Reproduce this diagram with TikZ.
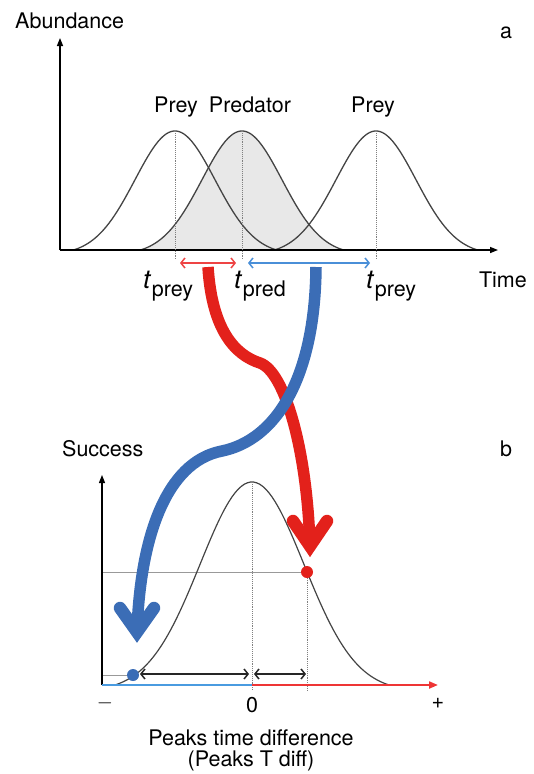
\documentclass[tikz,border=0pt]{standalone}
\usepackage{fontspec}
\setmainfont{TeX Gyre Heros}
\usetikzlibrary{arrows.meta}
\definecolor{bigred}{HTML}{E3211B}
\definecolor{bigblue}{HTML}{3B6DB6}
\definecolor{thinred}{HTML}{EE4444}
\definecolor{thinblue}{HTML}{4A8FD8}
\definecolor{axblue}{HTML}{4A9BE0}
\definecolor{axred}{HTML}{EE3535}
\definecolor{curvec}{HTML}{444444}
\definecolor{shadegray}{HTML}{E8E8E8}
\newcommand\tlab[1]{{\fontsize{26}{28}\selectfont\itshape t}\kern1.5pt\raisebox{-8pt}{\fontsize{21.5}{24}\selectfont #1}}
\begin{document}
\begin{tikzpicture}[x=1pt,y=-1pt,
  lbl/.style={font=\fontsize{21.5}{24}\selectfont, inner sep=0pt},
  curve/.style={draw=curvec, line width=1.3pt},
  axis/.style={draw=black, line width=1.4pt},
  guide/.style={draw=gray, line width=0.9pt, densely dotted},
  hline/.style={draw=gray!80, line width=0.9pt},
  thinarr/.style={line width=1.5pt, {Straight Barb[length=4pt,width=10pt]}-{Straight Barb[length=4pt,width=10pt]}},
  bigarr/.style={line width=11.5pt, line cap=butt},
  bighead/.style={line width=12.5pt, line cap=round, line join=miter}]
\useasboundingbox (0,0) rectangle (533,774);

% ---------- panel a ----------
\coordinate (aO) at (60,250);
\coordinate (aY) at (60,38);
\coordinate (aX) at (498,250);
\fill[shadegray] plot[domain=140:344, samples=80] (\x,{250-124*(exp(-((\x-242)/10)^2/32)-0.04)}) -- cycle;
\draw[curve] plot[domain=73:277, samples=80] (\x,{250-124*(exp(-((\x-175)/10)^2/32)-0.04)});
\draw[curve] plot[domain=140:344, samples=80] (\x,{250-124*(exp(-((\x-242)/10)^2/32)-0.04)});
\draw[curve] plot[domain=274:478, samples=80] (\x,{250-124*(exp(-((\x-376)/10)^2/32)-0.04)});
\draw[axis, -{Triangle[length=8pt,width=6pt]}] (aO) -- (aY);
\draw[axis, -{Triangle[length=8pt,width=6pt]}] (aO) -- (aX);

\coordinate (pk1) at (175,131);
\coordinate (pk2) at (242,131);
\coordinate (pk3) at (376,131);
\coordinate (ft1) at (175,259);
\coordinate (ft2) at (242,259);
\coordinate (ft3) at (376,259);
\draw[guide] (pk1) -- (ft1);
\draw[guide] (pk2) -- (ft2);
\draw[guide] (pk3) -- (ft3);

\node[lbl, anchor=base west] (abund) at (15,28) {Abundance};
\node[lbl, anchor=base west] (la) at (500,38) {a};
\node[lbl, anchor=base] (prey1) at (176,112) {Prey};
\node[lbl, anchor=base] (pred) at (250,112) {Predator};
\node[lbl, anchor=base] (prey2) at (373,112) {Prey};
\node[lbl, anchor=base east] (time) at (527,287) {Time};
\node[inner sep=0pt, anchor=base west] (tp1) at (143,288) {\tlab{prey}};
\node[inner sep=0pt, anchor=base west] (tpd) at (234,288) {\tlab{pred}};
\node[inner sep=0pt, anchor=base west] (tp2) at (366,288) {\tlab{prey}};

\coordinate (ra) at (180,263);
\coordinate (rb) at (236,263);
\coordinate (ba) at (248,263);
\coordinate (bb) at (370,263);
\draw[thinarr, thinred] (ra) -- (rb);
\draw[thinarr, thinblue] (ba) -- (bb);

% ---------- panel b ----------
\coordinate (bO) at (102,685);
\coordinate (bY) at (102,475);
\coordinate (bZ) at (252,685);
\coordinate (bX) at (438,685);
\draw[hline] (102,572) -- (307,572);
\draw[hline] (102,675) -- (133,675);
\draw[curve, line width=1.2pt] plot[domain=115:389, samples=90] (\x,{685-209.5*(exp(-((\x-252)/10)^2/54.08)-0.031)});
\draw[guide] (252,482) -- (252,690);
\draw[guide] (307,572) -- (307,690);
\draw[axis, line width=1.3pt, -{Triangle[length=8pt,width=6pt]}] (bO) -- (bY);
\draw[line width=2pt, axblue] (bO) -- (bZ);
\draw[line width=2pt, axred, -{Triangle[length=9pt,width=7pt]}] (bZ) -- (bX);

\coordinate (k1) at (140,674);
\coordinate (k2) at (249,674);
\coordinate (k3) at (254,674);
\coordinate (k4) at (306,674);
\draw[thinarr, black!85] (k1) -- (k2);
\draw[thinarr, black!85] (k3) -- (k4);

\node[circle, fill=bigred, minimum size=12pt, inner sep=0pt] (rdot) at (307,572) {};
\node[circle, fill=bigblue, minimum size=12pt, inner sep=0pt] (bdot) at (133,675) {};

\node[lbl, anchor=base west] (succ) at (62,456) {Success};
\node[lbl, anchor=base west] (lb) at (500,456) {b};
\node[lbl, anchor=center] (minus) at (105,703) {$-$};
\node[lbl, anchor=center] (zero) at (252,705) {0};
\node[lbl, anchor=center] (plus) at (438,703) {+};
\node[lbl, anchor=base] (xl1) at (251,745) {Peaks time difference};
\node[lbl, anchor=base] (xl2) at (251,766) {(Peaks T diff)};

% ---------- big arrows ----------
\coordinate (rs) at (208,267);
\coordinate (rm) at (260,363);
\coordinate (rt) at (310,546);
\coordinate (rw1) at (293,521);
\coordinate (rw2) at (327,521);
\draw[bigarr, bigred] (rs) .. controls (212,330) and (235,355) .. (rm)
   .. controls (285,372) and (307,450) .. (rt);
\draw[bighead, bigred] (rw1) -- (rt) -- (rw2);

\coordinate (bs) at (316,267);
\coordinate (bm) at (222,451);
\coordinate (bt) at (137,632);
\coordinate (bw1) at (120,608);
\coordinate (bw2) at (154,608);
\draw[bigarr, bigblue] (bs) .. controls (315,380) and (275,440) .. (bm)
   .. controls (165,462) and (140,540) .. (bt);
\draw[bighead, bigblue] (bw1) -- (bt) -- (bw2);
\end{tikzpicture}
\end{document}
